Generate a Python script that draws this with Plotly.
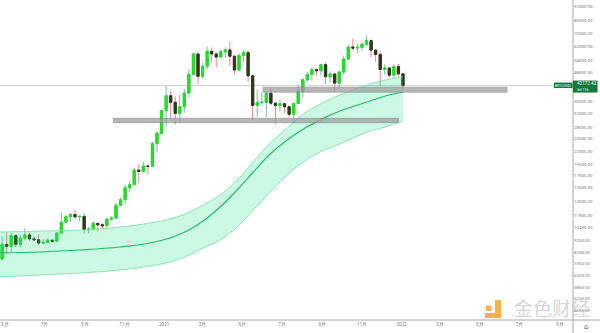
import numpy as np
import pandas as pd
import plotly.graph_objects as go

# ---------------- data ----------------
week_start = "2020-04-20"
opens = [7800, 7700, 8890, 8720, 9680, 8900, 9450, 9750, 9380, 9300,
         9000, 9070, 9250, 9170, 9930, 11050, 11650, 11900, 11650, 11700,
         10280, 10330, 10920, 10770, 10670, 11380, 11500, 13030, 13780, 15480,
         15960, 18410, 18180, 19150, 19100, 23850, 26450, 33000, 38150, 35800,
         32100, 34300, 39200, 47100, 57500, 46200, 51000, 59000, 57500, 55800,
         58700, 59800, 56200, 49100, 56600, 58200, 46400, 34700, 35700, 35800,
         39100, 35500, 34700, 35300, 34250, 31800, 35400, 39900, 44600, 47000,
         49300, 48800, 51750, 46000, 47250, 43200, 48200, 54700, 61500, 60900,
         61300, 63300, 65500, 59700, 57250, 49400, 50100, 46700, 50800, 47300]
highs = [7850, 9600, 10070, 9950, 9840, 9740, 10430, 9990, 9590, 9800,
         9350, 9470, 9340, 10000, 12130, 11900, 12100, 12480, 11800, 12080,
         10580, 11180, 10990, 10950, 11500, 11720, 13350, 14100, 15960, 16480,
         18800, 19480, 19920, 19450, 24300, 26900, 33300, 41950, 40100, 37900,
         38500, 40900, 49700, 58350, 57550, 52650, 61800, 61200, 58450, 60200,
         61300, 64850, 57000, 58000, 59600, 59600, 46650, 40500, 39450, 40000,
         41300, 35750, 36600, 35300, 34700, 35400, 42600, 45300, 48150, 50500,
         50000, 51900, 52900, 48850, 47400, 48500, 56600, 62900, 67000, 63700,
         64300, 69000, 66300, 59850, 59200, 51950, 50200, 51900, 52100, 47550]
lows = [7050, 7600, 8100, 8200, 8630, 8630, 9250, 9200, 9170, 8830,
        8890, 9050, 9060, 9100, 10500, 11000, 11100, 11350, 11150, 9875,
        9880, 10200, 10140, 10370, 10530, 11200, 11420, 12950, 13200, 14850,
        15800, 16200, 18180, 17600, 19000, 21800, 26000, 28130, 30400, 28800,
        29240, 32300, 37400, 46800, 43000, 45000, 49250, 53000, 50300, 55400,
        55450, 51000, 47000, 48750, 53000, 43800, 30000, 31000, 34800, 31000,
        34800, 28800, 32700, 32100, 31100, 29300, 35200, 37600, 43800, 43950,
        46400, 46500, 42800, 43400, 39600, 40800, 46900, 54400, 59500, 57800,
        59400, 62300, 55600, 53250, 42000, 46850, 45500, 45600, 45650, 40600]
closes = [7250, 8890, 8720, 9680, 8900, 9450, 9750, 9380, 9300, 9000,
          9070, 9250, 9170, 9930, 11050, 11650, 11900, 11650, 11700, 10280,
          10330, 10920, 10770, 10670, 11380, 11500, 13030, 13780, 15480, 15960,
          18410, 18180, 19150, 19100, 23850, 26450, 33000, 38150, 35800, 32100,
          34300, 39200, 47100, 57500, 46200, 51000, 59000, 57500, 55800, 58700,
          59800, 56200, 49100, 56600, 58200, 46400, 34700, 35700, 35800, 39100,
          35500, 34700, 35300, 34250, 31800, 35400, 39900, 44600, 47000, 49300,
          48800, 51750, 46000, 47250, 43200, 48200, 54700, 61500, 60900, 61300,
          63300, 65500, 59700, 57250, 49400, 50100, 46700, 50800, 47300, 42172.42]

band_dates = ["2020-04-20", "2020-06-24", "2020-08-25", "2020-10-25", "2020-12-10",
              "2021-01-10", "2021-02-05", "2021-03-02", "2021-03-28", "2021-04-23",
              "2021-05-18", "2021-06-13", "2021-07-09", "2021-08-03", "2021-08-29",
              "2021-09-28", "2021-11-09", "2021-12-07", "2022-01-03"]
band_mid = [8168, 8248, 8411, 8663, 9010, 9460, 10130, 11180, 12820, 15150,
            18070, 21560, 24730, 27540, 30090, 32860, 35900, 38070, 39600]
band_upper = [10030, 10130, 10230, 10540, 10960, 11400, 12090, 13080, 14430, 16710,
              19930, 24010, 27820, 31910, 35200, 38450, 42400, 44540, 45860]
band_lower = [6455, 6583, 6713, 6914, 7191, 7478, 7930, 8578, 9277, 10540,
              12450, 14860, 17550, 19930, 21990, 23780, 26740, 28090, 29800]

zone_start = ["2021-06-02", "2020-10-15"]
zone_end = ["2022-06-12", "2021-12-27"]
zone_low = [39500, 29300]
zone_high = [41500, 30600]

x_ticks = ["2020-05-01", "2020-07-01", "2020-09-01", "2020-11-01", "2021-01-01",
           "2021-03-01", "2021-05-01", "2021-07-01", "2021-09-01", "2021-11-01",
           "2022-01-01", "2022-03-01", "2022-05-01", "2022-07-01", "2022-09-01"]
x_labels = ["5月", "7月", "9月", "11月", "2021", "3月", "5月", "7月", "9月", "11月",
            "2022", "3月", "5月", "7月", "9月"]
y_ticks = [92000, 80000, 70000, 62000, 54000, 48000, 36000, 32000, 28000, 25000,
           22000, 19500, 17500, 15500, 13500, 11800, 10450, 9250, 8250, 7350,
           6550, 5850, 5250, 4650]
symbol = "BTCUSD"
countdown = "5d 11h"
x_range = ["2020-04-23 17:00", "2022-09-21 07:00"]
y_range = [4235, 97575]

# ---------------- styles ----------------
UP_BODY = "#22e022"
DN_BODY = "#2a3a22"
UP_WICK = "#5aa99a"
DN_WICK = "#e06a6a"
TAG = "#117a38"
AXIS = "#a8a8a8"
TXT = "#7a7a7a"
PX_PER_LN = 102.0   # vertical pixels per natural-log unit of the price scale

dates = pd.date_range(week_start, periods=len(opens), freq="7D")
body_hi = np.maximum(opens, closes)
body_lo = np.minimum(opens, closes)

fig = go.Figure()

# channel
fig.add_trace(go.Scatter(x=band_dates, y=band_upper, mode="lines",
                         line=dict(color="#74dea4", width=0.8, shape="spline", smoothing=1.2),
                         hoverinfo="skip", showlegend=False))
fig.add_trace(go.Scatter(x=band_dates, y=band_lower, mode="lines", fill="tonexty",
                         fillcolor="rgba(0,225,115,0.2)",
                         line=dict(color="#74dea4", width=0.8, shape="spline", smoothing=1.2),
                         hoverinfo="skip", showlegend=False))
fig.add_trace(go.Scatter(x=band_dates, y=band_mid, mode="lines",
                         line=dict(color="#20c064", width=1.2, shape="spline", smoothing=1.2),
                         hoverinfo="skip", showlegend=False))

# candles: wicks then bodies
fig.add_trace(go.Candlestick(x=dates, open=opens, high=highs, low=lows, close=closes,
                             increasing=dict(line=dict(color=UP_WICK, width=0.8), fillcolor=UP_BODY),
                             decreasing=dict(line=dict(color=DN_WICK, width=0.8), fillcolor=DN_BODY),
                             whiskerwidth=0, showlegend=False))
fig.add_trace(go.Candlestick(x=dates, open=opens, high=body_hi, low=body_lo, close=closes,
                             increasing=dict(line=dict(color=UP_BODY, width=1), fillcolor=UP_BODY),
                             decreasing=dict(line=dict(color=DN_BODY, width=1), fillcolor=DN_BODY),
                             whiskerwidth=0, showlegend=False))

W, H = 573.0, 320.0
def px(x): return x / W
def py(y): return (H - y) / H

last = closes[-1]
def off(p):  # price offset by p pixels (positive = up) around the last close
    return last * np.exp(p / PX_PER_LN)

shapes = []
for xs, xe, lo, hi in zip(zone_start, zone_end, zone_low, zone_high):
    shapes.append(dict(type="rect", xref="x", yref="y", x0=xs, x1=xe, y0=lo, y1=hi,
                       fillcolor="rgba(155,155,155,0.72)", line=dict(color="rgba(125,125,125,0.8)", width=0.6),
                       layer="above"))
shapes.append(dict(type="line", xref="paper", yref="y", x0=0, x1=1, y0=last, y1=last,
                   line=dict(color="#c4c4c4", width=0.8), layer="below"))
# axis frame lines
shapes.append(dict(type="line", xref="paper", yref="paper", x0=1, x1=1, y0=-0.05, y1=1,
                   line=dict(color=AXIS, width=1)))
shapes.append(dict(type="line", xref="paper", yref="paper", x0=0, x1=1.05, y0=0, y1=0,
                   line=dict(color=AXIS, width=1)))
# price tag and symbol tag boxes
shapes.append(dict(type="rect", xref="paper", yref="y", x0=1.0, x1=px(597.5),
                   y0=off(-7), y1=off(5), fillcolor=TAG, line=dict(width=0)))
shapes.append(dict(type="rect", xref="paper", yref="y", x0=px(554), x1=px(572.5),
                   y0=off(-2.5), y1=off(3), fillcolor=TAG, line=dict(width=0)))
# watermark logo
shapes.append(dict(type="rect", xref="paper", yref="paper", x0=px(486), x1=px(491.5),
                   y0=py(311), y1=py(305.5), fillcolor="rgba(245,166,35,0.85)", line=dict(width=0)))
shapes.append(dict(type="path", xref="paper", yref="paper",
                   path=f"M {px(495)} {py(300)} L {px(501)} {py(300)} L {px(501)} {py(318)} "
                        f"L {px(485)} {py(318)} L {px(485)} {py(313)} L {px(495)} {py(313)} Z",
                   fillcolor="rgba(245,166,35,0.85)", line=dict(width=0)))

ly = np.log10(last)
annotations = [
    dict(xref="paper", yref="y", x=px(575), y=ly, xanchor="left", yanchor="middle", yshift=1.8,
         text=f"{last:.2f}", showarrow=False,
         font=dict(family="Roboto", size=4.6, color="white")),
    dict(xref="paper", yref="y", x=px(575), y=ly, xanchor="left", yanchor="middle", yshift=-3.8,
         text=countdown, showarrow=False,
         font=dict(family="Roboto", size=3.8, color="white")),
    dict(xref="paper", yref="y", x=px(563.2), y=ly, xanchor="center", yanchor="middle", yshift=0.3,
         text=symbol, showarrow=False,
         font=dict(family="Roboto", size=4.2, color="white")),
    dict(xref="paper", yref="paper", x=px(552), y=py(307), xanchor="center", yanchor="middle",
         text="金色财经", showarrow=False,
         font=dict(family="Noto Sans CJK SC", size=19, color="rgba(190,190,190,0.65)")),
    dict(xref="paper", yref="paper", x=px(586), y=py(326.5), xanchor="center", yanchor="middle",
         text="⌂", showarrow=False, font=dict(family="DejaVu Sans", size=7, color="#555")),
]

fig.update_layout(
    width=600, height=333,
    margin=dict(l=0, r=27, t=0, b=13),
    paper_bgcolor="white", plot_bgcolor="white",
    showlegend=False,
    shapes=shapes, annotations=annotations,
    xaxis=dict(type="date", range=x_range, showgrid=False, zeroline=False, showline=False,
               tickvals=x_ticks, ticktext=x_labels, ticks="", automargin=False,
               tickfont=dict(family="Roboto", size=4.6, color=TXT),
               rangeslider=dict(visible=False)),
    yaxis=dict(type="log", side="right", range=[np.log10(y_range[0]), np.log10(y_range[1])],
               showgrid=False, zeroline=False, showline=False, ticks="", automargin=False,
               tickvals=y_ticks, ticktext=[f"{v:.2f}" for v in y_ticks],
               tickfont=dict(family="Roboto", size=4.4, color=TXT)),
)

fig.write_html("out.html")
